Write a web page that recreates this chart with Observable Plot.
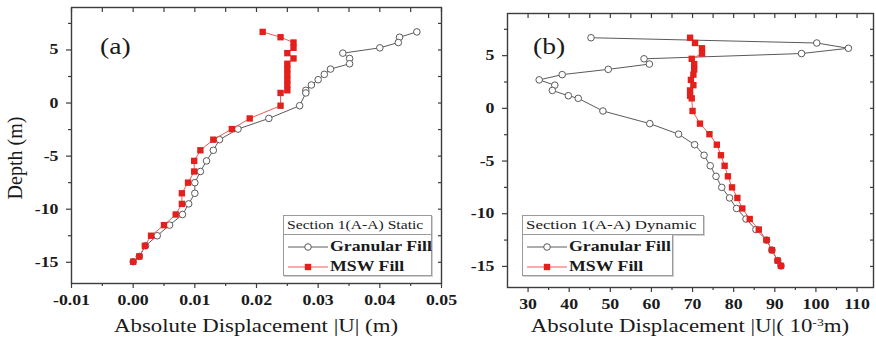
<!DOCTYPE html>
<html><head><meta charset="utf-8">
<script src="https://cdn.jsdelivr.net/npm/d3@7"></script>
<script src="https://cdn.jsdelivr.net/npm/@observablehq/plot@0.6"></script>
<style>
body{margin:0;background:#fff;}
#wrap{position:relative;width:876px;height:342px;overflow:hidden;background:#fff;font-family:"Liberation Serif","Times New Roman",serif;color:#1a1a1a;}
#wrap svg{position:absolute;top:0;}
.t{position:absolute;white-space:nowrap;line-height:1;}
.box{position:absolute;border:1px solid #9a9a9a;box-shadow:1px 1px 0 #d0d0d0;background:#fff;box-sizing:border-box;}
</style></head><body><div id="wrap"></div>
<script>
// Depth (m) of each sampled point, top to bottom
const depth = [6.7, 6.2, 5.7, 5.2, 4.7, 4.2, 3.7, 3.2, 2.7, 2.2, 1.7, 1.2, 0.95, -0.25, -1.45, -2.45, -3.45, -4.45, -5.45, -6.45, -7.5, -8.5, -9.5, -10.5, -11.5, -12.5, -13.45, -14.45, -14.95];
// (a) Static, |U| in m
const staticGranular = [0.0460, 0.0432, 0.0430, 0.0400, 0.0340, 0.0351, 0.0351, 0.0320, 0.0310, 0.0300, 0.0289, 0.0280, 0.0280, 0.0270, 0.0220, 0.0170, 0.0140, 0.0130, 0.0119, 0.0109, 0.0100, 0.0100, 0.0090, 0.0080, 0.0059, 0.0039, 0.0020, 0.0010, 0.0000];
const staticMSW = [0.0210, 0.0239, 0.0260, 0.0260, 0.0250, 0.0260, 0.0250, 0.0250, 0.0250, 0.0250, 0.0250, 0.0250, 0.0239, 0.0239, 0.0189, 0.0160, 0.0130, 0.0109, 0.0099, 0.0099, 0.0089, 0.0079, 0.0079, 0.0069, 0.0050, 0.0029, 0.0019, 0.0010, 0.0000];
// (b) Dynamic, |U| in 10^-3 m
const dynGranular = [45.3, 100.2, 107.9, 96.5, 58.2, 59.5, 49.5, 38.3, 32.7, 36.5, 35.9, 39.8, 42.2, 48.2, 59.6, 66.6, 70.5, 72.8, 74.3, 75.7, 77.1, 79.0, 80.7, 83.0, 85.4, 88.0, 89.3, 90.7, 91.5];
const dynMSW = [69.4, 70.6, 72.3, 72.3, 69.8, 70.4, 70.4, 70.2, 69.6, 70.2, 69.4, 69.4, 69.8, 70.0, 71.8, 74.1, 75.9, 76.9, 77.8, 78.6, 79.6, 80.9, 82.1, 83.9, 86.1, 88.0, 89.3, 90.7, 91.5];

const xTicksA = [-0.01, 0, 0.01, 0.02, 0.03, 0.04, 0.05];
const xMinorA = [-0.005, 0.005, 0.015, 0.025, 0.035, 0.045];
const xTicksB = [30, 40, 50, 60, 70, 80, 90, 100, 110];
const xMinorB = [35, 45, 55, 65, 75, 85, 95, 105];
const yTicks = [-15, -10, -5, 0, 5];
const yMinor = [-12.5, -7.5, -2.5, 2.5, 7.5];
const seriesNames = ["Granular Fill", "MSW Fill"];
const legendTitles = ["Section 1(A-A) Static", "Section 1(A-A) Dynamic"];

const GRAY = "#5a5a5a", RED = "#e3201b", REDLINE = "#f05a55", FRAME = "#3c3c3c";
const wrap = document.getElementById("wrap");

function panel(opts) {
  const rows = depth.map((d, i) => ({depth: d, g: opts.g[i], m: opts.m[i]}));
  const allX = opts.xt.concat(opts.xm);
  const allY = yTicks.concat(yMinor);
  const p = Plot.plot({
    width: opts.width, height: 342,
    marginLeft: opts.ml, marginRight: opts.mr, marginTop: opts.mt, marginBottom: opts.mb,
    style: {fontFamily: "Liberation Serif, serif", fontSize: "14px", fontWeight: "bold", color: "#1a1a1a", background: "transparent", overflow: "visible"},
    x: {domain: opts.xd},
    y: {domain: [-17, 9]},
    marks: [
      Plot.axisX({ticks: opts.xt, tickSize: 5, tickPadding: 7, tickFormat: opts.fmt, label: null, stroke: FRAME, strokeWidth: 1.2}),
      Plot.axisX({ticks: opts.xm, tickSize: 3, tickFormat: () => "", label: null, stroke: FRAME, strokeWidth: 1.2}),
      Plot.axisX({anchor: "top", ticks: allX, tickSize: -4, tickFormat: () => "", label: null, stroke: FRAME, strokeWidth: 1.2}),
      Plot.axisY({ticks: yTicks, tickSize: 5, tickPadding: 8, tickFormat: d => String(d), label: null, stroke: FRAME, strokeWidth: 1.2}),
      Plot.axisY({ticks: yMinor, tickSize: 3, tickFormat: () => "", label: null, stroke: FRAME, strokeWidth: 1.2}),
      Plot.axisY({anchor: "right", ticks: allY, tickSize: -4, tickFormat: () => "", label: null, stroke: FRAME, strokeWidth: 1.2}),
      Plot.frame({stroke: FRAME, strokeWidth: 1.4}),
      Plot.line(rows, {x: "g", y: "depth", stroke: GRAY, strokeWidth: 1}),
      Plot.dot(rows, {x: "g", y: "depth", r: 3.3, stroke: GRAY, strokeWidth: 1, fill: "white"}),
      Plot.line(rows, {x: "m", y: "depth", stroke: REDLINE, strokeWidth: 1}),
      Plot.dot(rows, {x: "m", y: "depth", symbol: "square", r: 3.6, fill: RED, stroke: "none"})
    ]
  });
  p.style.left = opts.left + "px";
  wrap.appendChild(p);
  // the reference's lettering is horizontally widened; widen tick labels likewise
  p.querySelectorAll("text").forEach(t => {
    const L = t.getComputedTextLength();
    if (L > 0) { t.setAttribute("textLength", (L * 1.27).toFixed(1)); t.setAttribute("lengthAdjust", "spacingAndGlyphs"); }
  });
}

panel({left: 0, width: 470, ml: 71, mr: 29, mt: 7, mb: 59, xd: [-0.01, 0.05], xt: xTicksA, xm: xMinorA, fmt: d => d.toFixed(2), g: staticGranular, m: staticMSW});
panel({left: 450, width: 426, ml: 57, mr: 3, mt: 13, mb: 55, xd: [25, 114], xt: xTicksB, xm: xMinorB, fmt: d => String(d), g: dynGranular, m: dynMSW});

function text(html, x, y, size, opts = {}) {
  const d = document.createElement("div");
  d.className = "t";
  d.innerHTML = html;
  d.style.left = x + "px";
  d.style.top = (y - size / 2) + "px";
  d.style.fontSize = size + "px";
  if (opts.bold) d.style.fontWeight = "bold";
  d.style.transformOrigin = opts.center ? "50% 50%" : "0 50%";
  d.style.transform = (opts.center ? "translateX(-50%) " : "") + (opts.rotate ? "rotate(-90deg) " : "") + "scaleX(" + (opts.sx || 1.25) + ")";
  wrap.appendChild(d);
  return d;
}
function box(x, y, w, h) {
  const b = document.createElement("div");
  b.className = "box";
  Object.assign(b.style, {left: x + "px", top: y + "px", width: w + "px", height: h + "px"});
  wrap.appendChild(b);
}
function legend(x, y, wTitle, wItems, title, titleSize) {
  box(x, y, wTitle, 20);
  box(x, y + 19, wItems, 42);
  text(title, x + 4, y + 10, titleSize, {});
  const ns = "http://www.w3.org/2000/svg";
  const s = document.createElementNS(ns, "svg");
  s.setAttribute("width", 50); s.setAttribute("height", 42);
  s.style.left = (x + 2) + "px"; s.style.top = (y + 19) + "px";
  s.innerHTML =
    `<line x1="3" x2="43" y1="13" y2="13" stroke="${GRAY}" stroke-width="1"/>` +
    `<circle cx="23" cy="13" r="3.3" fill="white" stroke="${GRAY}"/>` +
    `<line x1="3" x2="43" y1="33" y2="33" stroke="${REDLINE}" stroke-width="1"/>` +
    `<rect x="19.8" y="29.8" width="6.4" height="6.4" fill="${RED}"/>`;
  wrap.appendChild(s);
  text(seriesNames[0], x + 47, y + 32, 14, {bold: true, sx: 1.27});
  text(seriesNames[1], x + 47, y + 52, 14, {bold: true, sx: 1.27});
}
legend(283, 215, 149, 149, legendTitles[0], 12.5);
legend(522, 215, 182, 151, legendTitles[1], 13.5);

text("(a)", 100, 46, 24, {sx: 1.15});
text("(b)", 533, 46, 24, {sx: 1.15});
text("Depth (m)", 15, 158, 20, {center: true, rotate: true, sx: 1});
text("Absolute Displacement |U| (m)", 256, 326, 18, {center: true, sx: 1.27});
text("Absolute Displacement |U|( 10<sup style='font-size:60%;vertical-align:0.55em'>-3</sup>m)", 690, 326, 18, {center: true, sx: 1.27});
</script></body></html>
